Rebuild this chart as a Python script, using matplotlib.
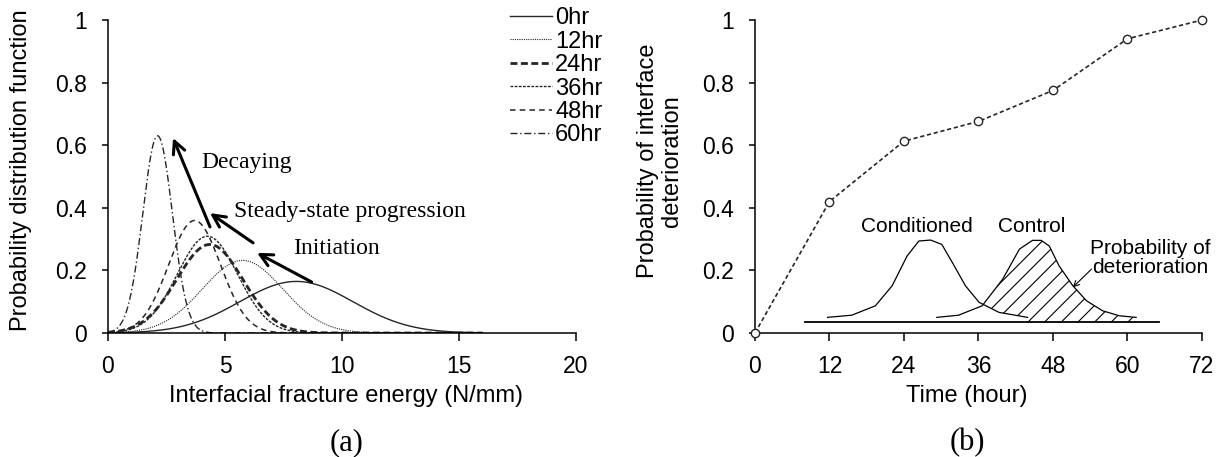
import numpy as np
import matplotlib.pyplot as plt

plt.rcParams['font.family'] = ['Liberation Sans', 'DejaVu Sans']
plt.rcParams['lines.scale_dashes'] = False
plt.rcParams['hatch.linewidth'] = 0.8

# (a) normal distributions of interfacial fracture energy per conditioning time
hours = ['0hr', '12hr', '24hr', '36hr', '48hr', '60hr']
means = [8.05, 5.75, 4.35, 4.25, 3.70, 2.12]
stds = [2.42, 1.72, 1.41, 1.29, 1.11, 0.633]

# (b) probability of interface deterioration
time_h = [0, 12, 24, 36, 48, 60, 72]
prob_det = [0.0, 0.42, 0.613, 0.676, 0.775, 0.94, 1.0]

# sketch curves inside (b)
cond_x = [11.7, 15.6, 19.4, 22.1, 24.5, 26.4, 28.3, 30.1, 31.8, 33.9, 36.1, 39.3, 43.9]
cond_y = [0.050, 0.057, 0.087, 0.151, 0.246, 0.294, 0.297, 0.283, 0.225, 0.151, 0.098, 0.066, 0.050]
ctrl_x = [29.3, 32.8, 36.6, 39.9, 42.6, 44.7, 46.1, 47.4, 49.0, 51.2, 53.4, 56.0, 58.7, 61.4]
ctrl_y = [0.050, 0.057, 0.087, 0.172, 0.268, 0.296, 0.296, 0.278, 0.214, 0.151, 0.103, 0.071, 0.055, 0.050]
base_x = [8.0, 65.0]
base_y = [0.034, 0.034]

styles = [
    dict(ls='-', lw=1.0),
    dict(ls=(0, (0.8, 0.8)), lw=0.8),
    dict(ls=(0, (5, 2.5)), lw=2.0),
    dict(ls=(0, (2, 1)), lw=1.0),
    dict(ls=(0, (4, 3)), lw=1.1),
    dict(ls=(0, (5, 2, 1, 2)), lw=1.0),
]
col = '#262626'

fig = plt.figure(figsize=(12.23, 4.57), dpi=100)
ax1 = fig.add_axes([0.0883, 0.2713, 0.3827, 0.6849])
ax2 = fig.add_axes([0.6173, 0.2713, 0.3655, 0.6849])

# ---- (a)
x = np.linspace(0, 16, 400)
for lab, m, s, st in zip(hours, means, stds, styles):
    y = np.exp(-0.5 * ((x - m) / s) ** 2) / (s * np.sqrt(2 * np.pi))
    ax1.plot(x, y, color=col, label=lab, **st)

ax1.set_xlim(0, 20)
ax1.set_ylim(0, 1)
ax1.set_xticks([0, 5, 10, 15, 20])
ax1.set_yticks([0, 0.2, 0.4, 0.6, 0.8, 1.0])
ax1.set_yticklabels(['0', '0.2', '0.4', '0.6', '0.8', '1'])
ax1.set_xlabel('Interfacial fracture energy (N/mm)', fontsize=17)
ax1.set_ylabel('Probability distribution function', fontsize=17)
ax1.xaxis.set_label_coords(0.509, -0.201)
ax1.yaxis.set_label_coords(-0.186, 0.521)

arrow = dict(arrowstyle='->', lw=2.2, color='black', mutation_scale=22, shrinkA=0, shrinkB=0)
ax1.annotate('', xy=(6.37, 0.256), xytext=(8.7, 0.163), arrowprops=arrow)
ax1.annotate('', xy=(4.36, 0.383), xytext=(6.2, 0.288), arrowprops=arrow)
ax1.annotate('', xy=(2.78, 0.623), xytext=(4.36, 0.339), arrowprops=arrow)
serif = ['Liberation Serif', 'DejaVu Serif']
ax1.text(3.99, 0.546, 'Decaying', family=serif, fontsize=17, va='center', ha='left')
ax1.text(5.38, 0.387, 'Steady-state progression', family=serif, fontsize=17, va='center', ha='left')
ax1.text(7.92, 0.27, 'Initiation', family=serif, fontsize=17, va='center', ha='left')

fig.legend(loc='upper left', bbox_to_anchor=(0.417, 0.984), frameon=False, fontsize=17,
           handlelength=1.78, handletextpad=0.13, labelspacing=0.06, borderpad=0,
           borderaxespad=0)

# ---- (b)
ax2.plot(time_h, prob_det, color=col, ls=(0, (3, 2)), lw=1.2, marker='o', ms=6,
         mfc='white', mec=col, mew=1.0, clip_on=False, zorder=5)

ax2.plot(base_x, base_y, color='black', lw=1.3)
ax2.plot(cond_x, cond_y, color='black', lw=0.9)
ax2.plot(ctrl_x, ctrl_y, color='black', lw=0.9)
xf = np.linspace(36.4, ctrl_x[-1], 300)
upper = np.interp(xf, ctrl_x, ctrl_y)
lower = np.where(xf <= cond_x[-1], np.interp(xf, cond_x, cond_y), base_y[0])
ax2.fill_between(xf, lower, upper, facecolor='none', edgecolor='black', hatch='//', linewidth=0)

ax2.text(26.0, 0.34, 'Conditioned', fontsize=15, ha='center', va='center')
ax2.text(44.6, 0.34, 'Control', fontsize=15, ha='center', va='center')
ax2.text(63.6, 0.24, 'Probability of\ndeterioration', fontsize=15, ha='center', va='center',
         linespacing=0.95)
ax2.annotate('', xy=(51.2, 0.146), xytext=(54.2, 0.204),
             arrowprops=dict(arrowstyle='->', lw=0.8, color='black', mutation_scale=10,
                             shrinkA=0, shrinkB=0))

ax2.set_xlim(0, 72)
ax2.set_ylim(0, 1)
ax2.set_xticks(time_h)
ax2.set_yticks([0, 0.2, 0.4, 0.6, 0.8, 1.0])
ax2.set_yticklabels(['0', '0.2', '0.4', '0.6', '0.8', '1'])
ax2.set_xlabel('Time (hour)', fontsize=17)
ax2.set_ylabel('Probability of interface\ndeterioration', fontsize=17, linespacing=1.1)
ax2.xaxis.set_label_coords(0.474, -0.201)
ax2.yaxis.set_label_coords(-0.2125, 0.55)

for ax in (ax1, ax2):
    ax.spines['top'].set_visible(False)
    ax.spines['right'].set_visible(False)
    for sp in ('left', 'bottom'):
        ax.spines[sp].set_linewidth(1.1)
    ax.tick_params(axis='x', direction='out', length=5.8, width=1.1, labelsize=16.5, pad=10)
    ax.tick_params(axis='y', direction='out', length=4.3, width=1.1, labelsize=16.5, pad=11)
    ax.xaxis.label.set_va('center')
    ax.yaxis.label.set_va('center')

fig.text(347 / 1223, 1 - 443 / 457, '(a)', family=serif, fontsize=22, ha='center', va='center')
fig.text(967 / 1223, 1 - 443 / 457, '(b)', family=serif, fontsize=22, ha='center', va='center')

fig.savefig('out.png', dpi=100)
